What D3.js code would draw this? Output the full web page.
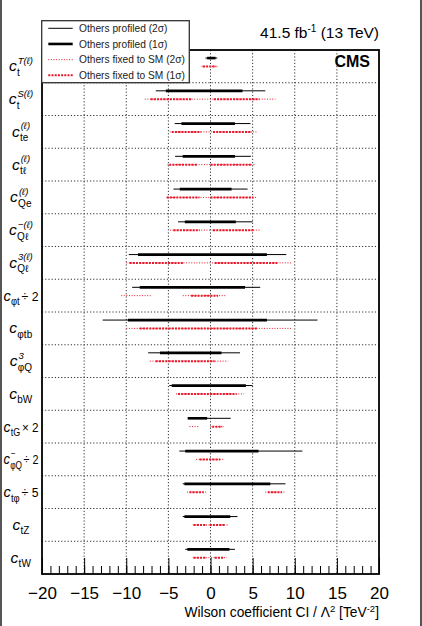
<!DOCTYPE html>
<html>
<head>
<meta charset="utf-8">
<script src="https://cdn.jsdelivr.net/npm/d3@7"></script>
<style>
  html, body { margin: 0; padding: 0; background: #fff; }
  svg { display: block; font-family: "Liberation Sans", Arial, sans-serif; }
</style>
</head>
<body>
<svg id="chart" width="422" height="626"></svg>
<script>
// Wilson coefficient intervals, one row per operator (top to bottom)

const names = ["ctT", "ctS", "cte", "ctl", "cQe", "cQlm", "cQl3", "cpt", "cptb",
  "cpQ3", "cbW", "ctG", "cpQm", "ctp", "ctZ", "ctW"];
// label pieces: subscript, superscript, trailing text
const labelSub = ["t", "t", "te", "tℓ", "Qe", "Qℓ", "Qℓ", "φt", "φtb",
  "φQ", "bW", "tG", "φQ", "tφ", "tZ", "tW"];
const labelSup = ["T(ℓ)", "S(ℓ)", "(ℓ)", "(ℓ)", "(ℓ)", "−(ℓ)", "3(ℓ)", "", "",
  "3", "", "", "−", "", "", ""];
const labelTail = ["", "", "", "", "", "", "", "÷ 2", "",
  "", "", "× 2", "÷ 2", "÷ 5", "", ""];

// others profiled, 2 sigma / 1 sigma
const prof2 = [[[-0.6, 0.8]], [[-6.5, 6.5]], [[-4.25, 4.75]], [[-4.2, 4.8]], [[-4.4, 4.4]],
  [[-3.85, 5.0]], [[-9.7, 9.0]], [[-9.3, 5.9]], [[-12.8, 12.7]], [[-7.4, 3.5]],
  [[-4.9, 5.0]], [[-2.7, 2.4]], [[-3.7, 10.9]], [[-3.3, 8.9]], [[-3.3, 3.2]], [[-3.0, 2.9]]];
const prof1 = [[[-0.4, 0.6]], [[-5.3, 3.8]], [[-3.45, 2.9]], [[-3.3, 2.9]], [[-3.65, 2.5]],
  [[-3.05, 3.0]], [[-8.6, 6.7]], [[-8.4, 4.1]], [[-9.8, 6.7]], [[-6.0, 1.3]],
  [[-4.6, 4.2]], [[-2.7, -0.4]], [[-3.0, 5.7]], [[-3.1, 7.1]], [[-3.1, 2.35]], [[-2.75, 2.25]]];
// others fixed to SM, 2 sigma / 1 sigma
const fixed2 = [[[-1.05, 0.85]], [[-7.8, 7.7]], [[-4.85, 5.65]], [[-5.1, 5.4]], [[-5.2, 5.4]],
  [[-4.8, 5.9]], [[-10.0, 9.6]], [[-10.6, -7.1], [-3.3, 1.9]], [[-10.0, 9.6]], [[-7.2, 2.1]],
  [[-4.1, 4.0]], [[-2.5, -1.4], [0.0, 1.6]], [[-1.7, 1.55]], [[-2.8, -0.45], [6.5, 8.9]],
  [[-2.1, 2.1]], [[-2.1, 1.95]]];
const fixed1 = [[[-0.9, 0.7]], [[-7.1, -2.3], [0.4, 5.8]], [[-4.6, -1.1], [0.3, 4.9]],
  [[-4.9, -1.5], [0.0, 4.9]], [[-5.2, -1.3], [0.0, 5.1]], [[-4.4, -1.3], [0.3, 5.1]],
  [[-9.6, -3.25], [0.5, 7.9]], [[-2.3, 0.9]], [[-8.4, 5.5]], [[-6.5, 0.5]],
  [[-3.85, 3.1]], [[0.2, 1.4]], [[-1.3, 1.15]], [[-2.5, -0.8], [6.8, 8.5]],
  [[-2.0, -0.45], [-0.1, 1.75]], [[-2.0, -0.6], [0.5, 1.6]]];

const xDomain = [-20, 20];
const majorTicks = [-20, -15, -10, -5, 0, 5, 10, 15, 20];
const gridTicks = [-15, -10, -5, 0, 5, 10, 15];

const legendLabels = ["Others profiled (2σ)", "Others profiled (1σ)",
  "Others fixed to SM (2σ)", "Others fixed to SM (1σ)"];

const svg = d3.select("#chart");
const W = 422, H = 626;
const plot = { left: 42, right: 379, top: 50, bottom: 574 };

const x = d3.scaleLinear().domain(xDomain).range([plot.left, plot.right]);
const y = d3.scaleBand().domain(names).range([plot.top, plot.bottom]);

const styles = {
  p2: { stroke: "#000", width: 1, dash: null },
  p1: { stroke: "#000", width: 2.6, dash: null },
  f2: { stroke: "#e8182a", width: 1, dash: "1 1.6" },
  f1: { stroke: "#e8182a", width: 2, dash: "2 1.2" }
};

// page side borders
svg.append("rect").attr("x", 0).attr("y", 0).attr("width", 2).attr("height", H).attr("fill", "#555");
svg.append("rect").attr("x", W - 2).attr("y", 0).attr("width", 2).attr("height", H).attr("fill", "#555");

// grid
const grid = svg.append("g").attr("stroke", "#333").attr("stroke-width", 1).attr("stroke-dasharray", "1.2 2");
grid.selectAll(".vg").data(gridTicks).join("line")
  .attr("x1", d => x(d)).attr("x2", d => x(d))
  .attr("y1", plot.top).attr("y2", plot.bottom);
grid.selectAll(".hg").data(names.slice(1)).join("line")
  .attr("x1", plot.left).attr("x2", plot.right)
  .attr("y1", d => y(d)).attr("y2", d => y(d));

// intervals
const rows = svg.append("g").selectAll("g").data(names).join("g")
  .attr("transform", d => `translate(0,${y(d) + y.bandwidth() / 2})`);

function drawSegs(sel, data, st, dy) {
  sel.each(function (d, i) {
    d3.select(this).selectAll(null).data(data[i]).join("line")
      .attr("x1", s => x(s[0])).attr("x2", s => x(s[1]))
      .attr("y1", dy).attr("y2", dy)
      .attr("stroke", st.stroke).attr("stroke-width", st.width)
      .attr("stroke-dasharray", st.dash);
  });
}
drawSegs(rows, prof2, styles.p2, -8.3);
drawSegs(rows, prof1, styles.p1, -8.3);
drawSegs(rows, fixed2, styles.f2, 0);
drawSegs(rows, fixed1, styles.f1, 0);

// row labels, centred left of the frame; long ones squeezed to fit
const labelMaxW = 35;
rows.each(function (d, i) {
  const g = d3.select(this).append("g");
  g.append("text").attr("x", 0).attr("y", 5)
    .attr("font-size", 15.5).attr("font-style", "italic").text("c");
  const sub = g.append("text").attr("x", 8).attr("y", 9.5)
    .attr("font-size", 10).text(labelSub[i]);
  let endX = 8 + sub.node().getComputedTextLength();
  if (labelSup[i]) {
    const sup = g.append("text").attr("x", 8.8).attr("y", -2.5)
      .attr("font-size", 9.5).attr("font-style", "italic").text(labelSup[i]);
    endX = Math.max(endX, 8.8 + sup.node().getComputedTextLength());
  }
  if (labelTail[i]) {
    g.append("text").attr("x", endX + 2).attr("y", 5)
      .attr("font-size", 13).text(labelTail[i]);
  }
  const bb = g.node().getBBox();
  const k = Math.min(1, labelMaxW / bb.width);
  const w = bb.width * k;
  const left = Math.max(3, 21 - w / 2);
  g.attr("transform", `translate(${left - bb.x * k},0) scale(${k},1)`);
});

// axis ticks (inside the frame) and labels
const axisG = svg.append("g").attr("transform", `translate(0,${plot.bottom})`);
axisG.call(d3.axisBottom(x).tickValues(d3.range(-20, 21, 1)).tickSize(-8).tickFormat(""));
axisG.append("g").call(d3.axisBottom(x).tickValues(majorTicks).tickSize(-16).tickPadding(13));
axisG.selectAll(".domain").remove();
axisG.selectAll(".tick line").attr("stroke", "#000").attr("stroke-width", 1);
axisG.selectAll(".tick text").attr("font-size", 17).attr("fill", "#000")
  .attr("font-family", "Liberation Sans, Arial, sans-serif");

// frame
svg.append("rect").attr("x", plot.left).attr("y", plot.top)
  .attr("width", plot.right - plot.left).attr("height", plot.bottom - plot.top)
  .attr("fill", "none").attr("stroke", "#000").attr("stroke-width", 1.8);

// axis title
const xt = svg.append("text").attr("x", plot.right).attr("y", 617)
  .attr("text-anchor", "end").attr("font-size", 13.8);
xt.append("tspan").text("Wilson coefficient CI / Λ");
xt.append("tspan").attr("dy", -5).attr("font-size", 9.5).text("2");
xt.append("tspan").attr("dy", 5).text(" [TeV");
xt.append("tspan").attr("dy", -5).attr("font-size", 9.5).text("-2");
xt.append("tspan").attr("dy", 5).text("]");

// lumi text
const lt = svg.append("text").attr("x", plot.right).attr("y", 38)
  .attr("text-anchor", "end").attr("font-size", 15.5);
lt.append("tspan").text("41.5 fb");
lt.append("tspan").attr("dy", -6).attr("font-size", 10).text("-1");
lt.append("tspan").attr("dy", 6).text(" (13 TeV)");

svg.append("text").attr("x", 370).attr("y", 67).attr("text-anchor", "end")
  .attr("font-size", 16).attr("font-weight", "bold").text("CMS");

// legend
const leg = svg.append("g");
leg.append("rect").attr("x", 41.7).attr("y", 20.7).attr("width", 147.6).attr("height", 62)
  .attr("fill", "#fff").attr("stroke", "#333").attr("stroke-width", 1.3);
const legY = d3.scalePoint().domain(legendLabels).range([28.3, 75.3]);
const legStyles = [styles.p2, styles.p1, styles.f2, styles.f1];
leg.selectAll(".li").data(legendLabels).join("g")
  .attr("transform", d => `translate(0,${legY(d)})`)
  .each(function (d, i) {
    const s = legStyles[i];
    const g = d3.select(this);
    g.append("line").attr("x1", 48.3).attr("x2", 72.7).attr("y1", 0).attr("y2", 0)
      .attr("stroke", s.stroke).attr("stroke-width", s.width).attr("stroke-dasharray", s.dash);
    g.append("text").attr("x", 79).attr("y", 3.8).attr("font-size", 10.2)
      .attr("fill", "#222").text(d);
  });
</script>
</body>
</html>
